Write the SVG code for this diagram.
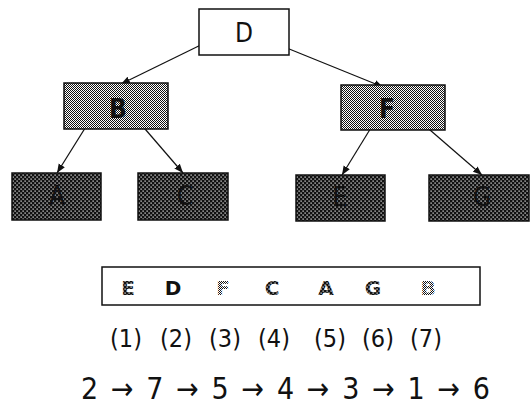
<svg xmlns="http://www.w3.org/2000/svg" width="530" height="405" viewBox="0 0 530 405">
<defs>
<pattern id="light" width="2" height="2" patternUnits="userSpaceOnUse">
<rect width="2" height="2" fill="#ffffff"/>
<rect x="0" y="0" width="1" height="1" fill="#111"/>
<rect x="1" y="1" width="1" height="1" fill="#111"/>
</pattern>
<pattern id="dark" width="4" height="4" patternUnits="userSpaceOnUse">
<rect width="4" height="4" fill="#111"/>
<rect x="0.5" y="0.5" width="1.2" height="1.2" fill="#ffffff"/>
<rect x="2.5" y="2.5" width="1.2" height="1.2" fill="#ffffff"/>
</pattern>
<marker id="ah" viewBox="0 0 10 10" refX="10" refY="5" markerWidth="9" markerHeight="9" markerUnits="userSpaceOnUse" orient="auto">
<path d="M0,1 L10,5 L0,9 Z" fill="#111"/>
</marker>
</defs>
<style>
.box{stroke:#111;stroke-width:1.5}
.lbl{font-family:"DejaVu Sans Condensed","DejaVu Sans",sans-serif;font-stretch:condensed;font-size:26px;text-anchor:middle;fill:#111}
.blbl{font-family:"DejaVu Sans","Liberation Sans",sans-serif;font-weight:bold;font-size:20px;text-anchor:middle}
.num{font-family:"DejaVu Sans Condensed","DejaVu Sans",sans-serif;font-stretch:condensed;font-size:25px;text-anchor:middle;fill:#111}
.seq{font-family:"DejaVu Sans Condensed","DejaVu Sans",sans-serif;font-stretch:condensed;font-size:30px;fill:#111}
.edge{stroke:#111;stroke-width:1.2;fill:none;marker-end:url(#ah)}
</style>
<g id="connectors">
<line class="edge" x1="213" y1="39" x2="121" y2="84"/>
<line class="edge" x1="267" y1="40" x2="383" y2="87"/>
<line class="edge" x1="92" y1="117" x2="57" y2="173"/>
<line class="edge" x1="133" y1="115" x2="183" y2="173"/>
<line class="edge" x1="377" y1="118" x2="342" y2="175"/>
<line class="edge" x1="415" y1="117" x2="482" y2="175"/>
</g>
<g id="node-D">
<rect class="box" x="199" y="9" width="90" height="46" fill="#fff"/>
<text class="lbl" x="244" y="42">D</text>
</g>
<g id="node-B">
<rect class="box" x="64" y="83" width="104" height="46" fill="url(#light)"/>
<text class="lbl" x="118" y="118" font-weight="bold">B</text>
</g>
<g id="node-F">
<rect class="box" x="341" y="85" width="104" height="45" fill="url(#light)"/>
<text class="lbl" x="387" y="118" font-weight="bold">F</text>
</g>
<g id="node-A">
<rect class="box" x="12" y="173" width="89" height="47" fill="url(#dark)"/>
<text class="lbl" x="57" y="205">A</text>
</g>
<g id="node-C">
<rect class="box" x="138" y="173" width="90" height="47" fill="url(#dark)"/>
<text class="lbl" x="185" y="205">C</text>
</g>
<g id="node-E">
<rect class="box" x="296" y="175" width="89" height="46" fill="url(#dark)"/>
<text class="lbl" x="340" y="206">E</text>
</g>
<g id="node-G">
<rect class="box" x="429" y="175" width="100" height="46" fill="url(#dark)"/>
<text class="lbl" x="482" y="206">G</text>
</g>
<g id="order-box">
<rect class="box" x="102" y="267" width="378" height="38" fill="#fff"/>
<text class="blbl" x="128" y="295" fill="url(#dark)">E</text>
<text class="blbl" x="173" y="295" fill="#111">D</text>
<text class="blbl" x="223" y="295" fill="url(#light)">F</text>
<text class="blbl" x="272" y="295" fill="url(#dark)">C</text>
<text class="blbl" x="326" y="295" fill="url(#dark)">A</text>
<text class="blbl" x="373" y="295" fill="url(#dark)">G</text>
<text class="blbl" x="428" y="295" fill="url(#light)">B</text>
</g>
<g id="indices">
<text class="num" x="126" y="347">(1)</text>
<text class="num" x="176" y="347">(2)</text>
<text class="num" x="225" y="347">(3)</text>
<text class="num" x="274" y="347">(4)</text>
<text class="num" x="330" y="347">(5)</text>
<text class="num" x="378" y="347">(6)</text>
<text class="num" x="426" y="347">(7)</text>
</g>
<g id="sequence">
<text class="seq" x="81" y="399" textLength="409" lengthAdjust="spacing">2 → 7 → 5 → 4 → 3 → 1 → 6</text>
</g>
</svg>
